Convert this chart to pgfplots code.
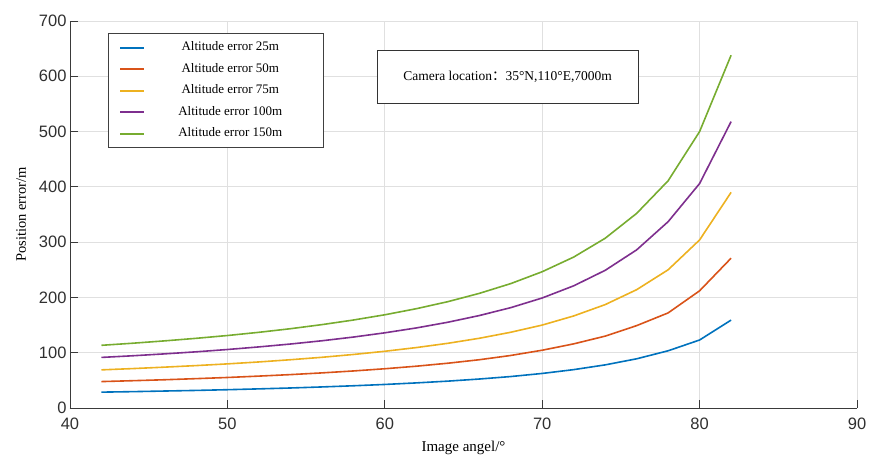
\documentclass[border=0pt]{standalone}
\usepackage{pgfplots}
\pgfplotsset{compat=1.18}
\usepackage{fontspec}
\setmainfont{Liberation Serif}
\setsansfont{Liberation Sans}
\newfontfamily\cjk{Noto Sans CJK SC}
\definecolor{mblue}{rgb}{0,0.447,0.741}
\definecolor{morange}{rgb}{0.85,0.325,0.098}
\definecolor{myellow}{rgb}{0.929,0.694,0.125}
\definecolor{mpurple}{rgb}{0.494,0.184,0.556}
\definecolor{mgreen}{rgb}{0.466,0.674,0.188}
\definecolor{axisgray}{HTML}{3A3A3A}
\definecolor{gridgray}{HTML}{E0E0E0}
\definecolor{ticktext}{HTML}{303030}
\begin{document}
\begin{tikzpicture}
\begin{axis}[
  scale only axis, width=787pt, height=387pt,
  xmin=40, xmax=90, ymin=0, ymax=700,
  xtick={40,50,...,90}, ytick={0,100,...,700},
  axis x line*=bottom, axis y line*=left,
  axis line style={color=axisgray, line width=0.9pt},
  tick style={color=axisgray, line width=0.9pt},
  tick align=inside, major tick length=8pt,
  grid=major, grid style={color=gridgray, line width=0.8pt},
  /pgf/number format/assume math mode=true,
  ticklabel style={font=\sffamily\fontsize{16.5}{18}\selectfont, color=ticktext},
  xticklabel style={yshift=-6pt},
  xlabel={Image angel/°}, ylabel={Position error/m},
  xlabel style={font=\fontsize{15}{17}\selectfont, color=black, yshift=-5pt},
  ylabel style={font=\fontsize{14.5}{16}\selectfont, color=black, yshift=6pt},
  every axis plot/.append style={line width=1.6pt},
  legend style={at={(0.0483,0.969)}, anchor=north west, draw=black!75, line width=0.8pt,
    font=\fontsize{13}{15}\selectfont, inner xsep=11pt, inner ysep=6pt,
    nodes={text height=9.5pt, text depth=3pt, inner sep=2pt},
    row sep=5pt, column sep=3pt},
  legend image code/.code={\draw[#1, line width=1.9pt] (0pt,0pt) -- (24pt,0pt);},
]
\addplot[mblue] coordinates {(42,28.7)(44,29.6)(46,30.7)(48,31.8)(50,33.1)(52,34.6)(54,36.2)(56,38.1)(58,40.2)(60,42.6)(62,45.4)(64,48.6)(66,52.4)(68,56.9)(70,62.5)(72,69.4)(74,78.0)(76,89.0)(78,103.5)(80,123)(82,159)};
\addlegendentry{\makebox[160pt]{Altitude error 25m}}
\addplot[morange] coordinates {(42,47.8)(44,49.4)(46,51.1)(48,53.1)(50,55.2)(52,57.7)(54,60.4)(56,63.5)(58,67.0)(60,71.0)(62,75.6)(64,81.0)(66,87.3)(68,95.0)(70,104.5)(72,116)(74,130)(76,149)(78,172)(80,212)(82,271)};
\addlegendentry{\makebox[160pt]{Altitude error 50m}}
\addplot[myellow] coordinates {(42,69.0)(44,71.3)(46,73.9)(48,76.7)(50,79.8)(52,83.3)(54,87.3)(56,91.7)(58,96.8)(60,102.6)(62,109.3)(64,117.0)(66,126.1)(68,137.0)(70,150.0)(72,166.5)(74,187)(76,214)(78,250)(80,304)(82,390)};
\addlegendentry{\makebox[160pt]{Altitude error 75m}}
\addplot[mpurple] coordinates {(42,91.5)(44,94.5)(46,97.9)(48,101.6)(50,105.8)(52,110.5)(54,115.7)(56,121.6)(58,128.3)(60,136)(62,144.8)(64,155.1)(66,167.2)(68,181.5)(70,199)(72,221)(74,249)(76,286)(78,337)(80,406)(82,518)};
\addlegendentry{\makebox[160pt]{Altitude error 100m}}
\addplot[mgreen] coordinates {(42,113.4)(44,117.2)(46,121.4)(48,126)(50,131.1)(52,136.9)(54,143.4)(56,150.8)(58,159.1)(60,168.6)(62,179.6)(64,192.3)(66,207.3)(68,225)(70,246.5)(72,273)(74,307)(76,352)(78,411)(80,500)(82,638)};
\addlegendentry{\makebox[160pt]{Altitude error 150m}}
\node[draw=black!80, line width=0.8pt, fill=white, minimum width=261pt, minimum height=53pt,
  font=\fontsize{13.5}{15}\selectfont] at (rel axis cs:0.556,0.8566)
  {Camera location{\cjk ：}35°N,110°E,7000m};
\coordinate (bl) at (rel axis cs:0,0);
\end{axis}
\pgfresetboundingbox
\path (bl) ++(-70pt,-50pt) rectangle ++(869pt,458pt);
\end{tikzpicture}
\end{document}
